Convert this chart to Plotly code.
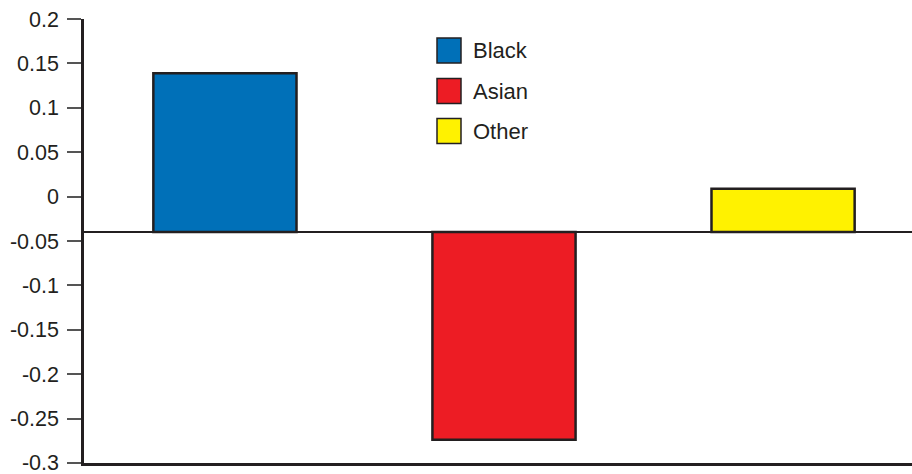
import plotly.graph_objects as go

categories = ["Black", "Asian", "Other"]
values = [0.139, -0.274, 0.009]
baseline = -0.04
colors = ["#0070b8", "#ed1c24", "#fff200"]
tick_vals = [0.2, 0.15, 0.1, 0.05, 0, -0.05, -0.1, -0.15, -0.2, -0.25, -0.3]
tick_text = ["0.2", "0.15", "0.1", "0.05", "0", "-0.05", "-0.1", "-0.15", "-0.2", "-0.25", "-0.3"]

ink = "#231f20"
xpos = list(range(len(categories)))

fig = go.Figure()
fig.add_trace(go.Bar(
    x=xpos,
    y=[v - baseline for v in values],
    base=[baseline] * len(values),
    width=0.513,
    marker=dict(color=colors, line=dict(color=ink, width=2.5)),
    showlegend=False,
    hoverinfo="skip",
))

# baseline line
fig.add_shape(type="line", xref="paper", yref="y", x0=0, x1=1, y0=baseline, y1=baseline,
              line=dict(color=ink, width=2), layer="above")

# manual legend
leg_x0, leg_x1 = 437, 461
row_centers = [50.5, 91, 131]
W, H = 912, 474
ml, mr, mt, mb = 84, 0, 19, 11
pw, ph = W - ml - mr, H - mt - mb
for name, col, cy in zip(categories, colors, row_centers):
    fig.add_shape(type="rect", xref="paper", yref="paper",
                  x0=(leg_x0 - ml) / pw, x1=(leg_x1 - ml) / pw,
                  y0=1 - (cy - 12.5 - mt) / ph, y1=1 - (cy + 12.5 - mt) / ph,
                  fillcolor=col, line=dict(color=ink, width=1.5))
    fig.add_annotation(xref="paper", yref="paper", x=(471 - ml) / pw, y=1 - (cy - mt) / ph,
                       text=name, showarrow=False, xanchor="left", yanchor="middle",
                       font=dict(size=22, color=ink, family="Liberation Sans, Arial, sans-serif"))

fig.update_layout(
    width=W, height=H,
    margin=dict(l=ml, r=mr, t=mt, b=mb),
    plot_bgcolor="white", paper_bgcolor="white",
    font=dict(family="Liberation Sans, Arial, sans-serif", size=21.5, color=ink),
    xaxis=dict(range=[-0.505, 2.462], showticklabels=False, ticks="", showgrid=False,
               zeroline=False, showline=True, linecolor=ink, linewidth=2.5),
    yaxis=dict(range=[-0.3001, 0.2001], tickvals=tick_vals, ticktext=tick_text, showgrid=False,
               zeroline=False, showline=True, linecolor=ink, linewidth=2.5,
               ticks="outside", ticklen=14, tickwidth=1.5, tickcolor="#555555",
               ticklabelstandoff=4, ticklabeloverflow="allow"),
)

fig.write_html("out.html", config={"displayModeBar": False},
               post_script="document.body.style.margin='0';document.body.style.overflow='hidden';")
